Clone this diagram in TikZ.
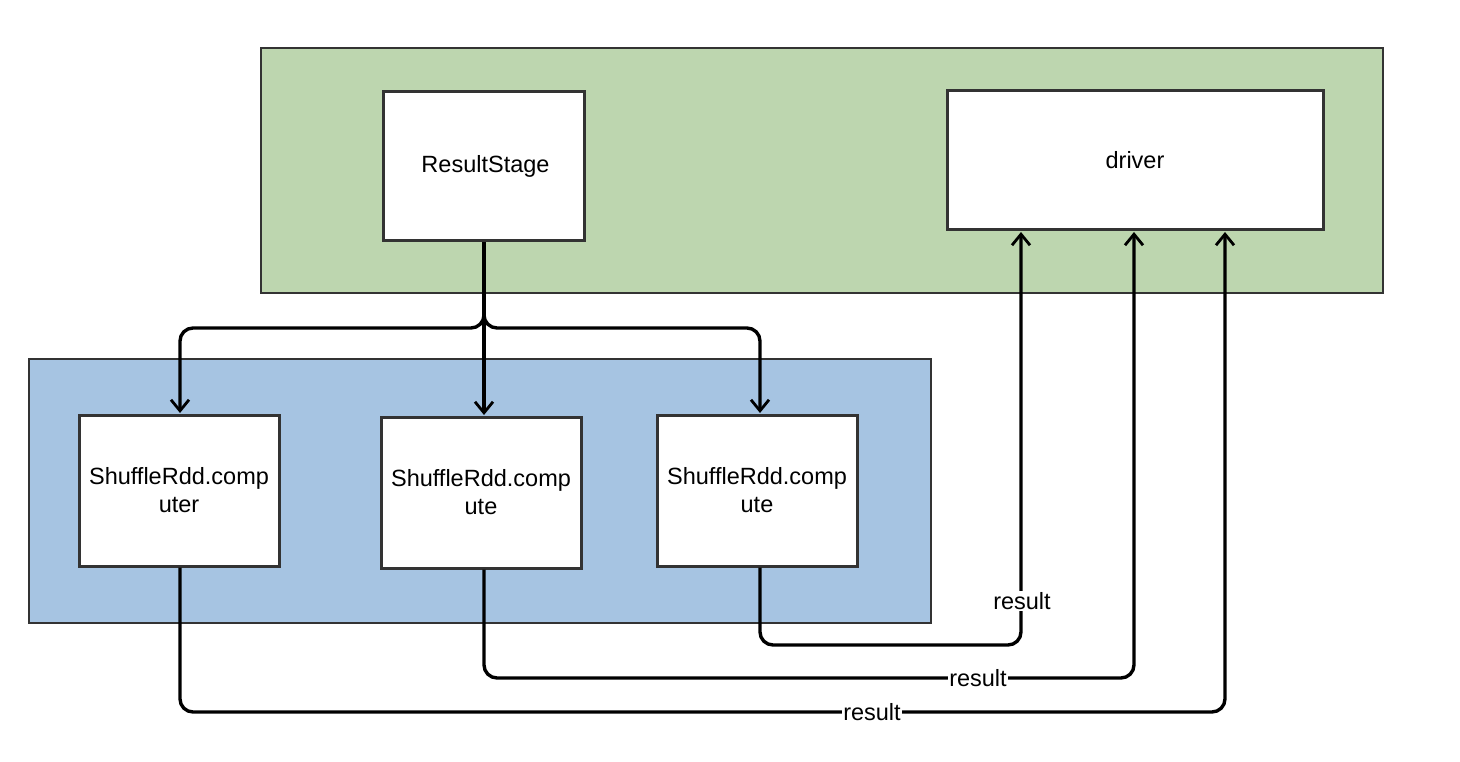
\documentclass[tikz,border=0pt]{standalone}
\usepackage{fontspec}
\setmainfont{Liberation Sans}
\usetikzlibrary{arrows.meta}
\definecolor{grn}{HTML}{BDD6AF}
\definecolor{blu}{HTML}{A6C4E2}
\definecolor{edge}{HTML}{333333}
\begin{document}
\begin{tikzpicture}[x=1pt,y=-1pt,
  container/.style={draw=edge,line width=1.3pt},
  box/.style={draw=edge,fill=white,line width=3pt,align=center,font=\fontsize{23.5}{28}\selectfont,inner sep=0pt},
  conn/.style={line width=3.4pt,rounded corners=13pt,-{Straight Barb[length=11pt,width=18pt,line width=2.8pt]}},
  lbl/.style={fill=white,inner sep=1.5pt,font=\fontsize{23.5}{26}\selectfont}]
\useasboundingbox (0,0) rectangle (1460,762);
\filldraw[container,fill=grn] (261,48) rectangle (1383,293);
\filldraw[container,fill=blu] (29,359) rectangle (931,623);
\node[box,minimum width=201pt,minimum height=149pt] (rs) at (483.5,166.5) {\raisebox{-2pt}{\hspace{4pt}ResultStage}};
\node[box,minimum width=376pt,minimum height=139pt] (drv) at (1135,160.5) {driver};
\node[box,minimum width=200pt,minimum height=151pt] (s1) at (179,490.5) {ShuffleRdd.comp\\uter};
\node[box,minimum width=200pt,minimum height=151pt] (s2) at (481,492.5) {ShuffleRdd.comp\\ute};
\node[box,minimum width=200pt,minimum height=151pt] (s3) at (757,490.5) {ShuffleRdd.comp\\ute};
\coordinate (j) at (484,328);
\draw[conn] (rs.south -| j) |- (180,328) -- (180,413);
\draw[conn] (rs.south -| j) -- (484,415);
\draw[conn] (rs.south -| j) |- (760,328) -- (760,413);
\draw[conn] (s3.south -| 760,0) |- (1021,645) -- (1021,232);
\draw[conn] (s2.south -| 484,0) |- (1134,678) -- (1134,232);
\draw[conn] (s1.south -| 180,0) |- (1225,712) -- (1225,232);
\node[lbl] (l1) at (1022,601) {result};
\node[lbl] (l2) at (978,678) {result};
\node[lbl] (l3) at (872,712) {result};
\end{tikzpicture}
\end{document}
